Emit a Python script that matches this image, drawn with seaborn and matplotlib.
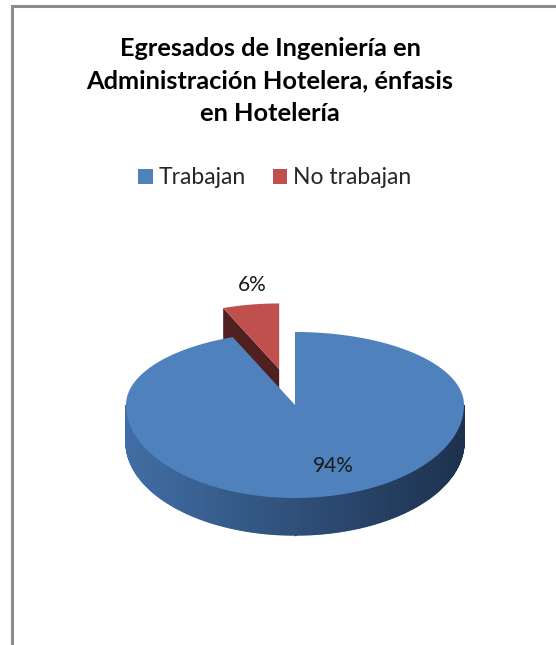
import numpy as np
import matplotlib
matplotlib.use("Agg")
import matplotlib.pyplot as plt
from matplotlib.patches import Polygon, Patch
from matplotlib.colors import to_rgb
import seaborn as sns

# data
categories = ["Trabajan", "No trabajan"]
shares = [94, 6]
pct_labels = ["94%", "6%"]
title = "Egresados de Ingeniería en\nAdministración Hotelera, énfasis\nen Hotelería"

sns.set_theme(style="white")
plt.rcParams["font.family"] = ["Lato", "DejaVu Sans"]

top_colors = ["#4f81bd", "#c0504d"]
cut_colors = ["#2f5082", "#4f201f"]
wall_left, wall_right = "#416ea5", "#1d314d"

fig = plt.figure(figsize=(5.56, 6.45), dpi=100)
ax = fig.add_axes([0, 0, 1, 1])
ax.set_xlim(0, 556)
ax.set_ylim(645, 0)
ax.axis("off")

# chart frame (left + top, right side is cut off)
ax.plot([11.5, 11.5, 556], [650, 5.5, 5.5], color="#8c8c8c", lw=2.2,
        solid_joinstyle="miter")

# 3d pie geometry (pixel units)
cx, cy = 295, 405
rx, ry_back, ry_front = 169, 73, 93
depth = 37
explode = [0.0, 0.5]
scale = [1.0, 0.9]


def rim(theta, ox, oy, s):
    t = np.radians(theta)
    ry = np.where(np.cos(t) > 0, ry_back, ry_front)
    return ox + s * rx * np.sin(t), oy - s * ry * np.cos(t)


ang = np.concatenate([[0], np.cumsum(shares) / np.sum(shares) * 360])
order = np.argsort([-e for e in explode])  # exploded (back) slices first
cl, cr = np.array(to_rgb(wall_left)), np.array(to_rgb(wall_right))

for i in order:
    a0, a1 = ang[i], ang[i + 1]
    mid = (a0 + a1) / 2
    s = scale[i]
    ox, oy = rim(mid, cx, cy, explode[i])
    d = depth * s
    # visible cut face at start angle (faces front-left when in back half)
    if np.cos(np.radians(a0)) > 0 and np.sin(np.radians(a0)) < 0 and explode[i] > 0:
        ex, ey = rim(a0, ox, oy, s)
        ax.add_patch(Polygon([(ox, oy), (ex, ey), (ex, ey + d), (ox, oy + d)],
                             closed=True, fc=cut_colors[i], ec="none"))
    # outer wall on the front half
    w0, w1 = max(a0, 90), min(a1, 270)
    if w1 > w0:
        th = np.linspace(w0, w1, 240)
        for t0, t1 in zip(th[:-1], th[1:]):
            x0, y0 = rim(t0, ox, oy, s)
            x1, y1 = rim(t1, ox, oy, s)
            f = np.clip(((x0 + x1) / 2 - (cx - rx)) / (2 * rx), 0, 1)
            col = cl * (1 - f) + cr * f
            ax.add_patch(Polygon([(x0, y0), (x1, y1), (x1, y1 + d), (x0, y0 + d)],
                                 closed=True, fc=col, ec=col, lw=1.0))
    # top face
    th = np.linspace(a0, a1, 300)
    xs, ys = rim(th, ox, oy, s)
    pts = [(ox, oy)] + list(zip(xs, ys))
    ax.add_patch(Polygon(pts, closed=True, fc=top_colors[i], ec="none"))

# percentage labels
ax.text(333, 466, pct_labels[0], ha="center", va="center", fontsize=15, color="#1a1a1a")
ax.text(252, 285, pct_labels[1], ha="center", va="center", fontsize=15, color="#1a1a1a")

# title
ax.text(270, 81, title, ha="center", va="center", fontsize=18.3, fontweight="bold",
        color="black", linespacing=1.52)

# legend
handles = [Patch(fc=c, ec="none") for c in top_colors]
ax.legend(handles, categories, ncol=2, loc="center", bbox_to_anchor=(275 / 556, 1 - 178 / 645),
          frameon=False, fontsize=16.5, handlelength=0.62, handleheight=0.62,
          handletextpad=0.26, columnspacing=1.2, borderaxespad=0)

fig.savefig("out.png", dpi=100)
